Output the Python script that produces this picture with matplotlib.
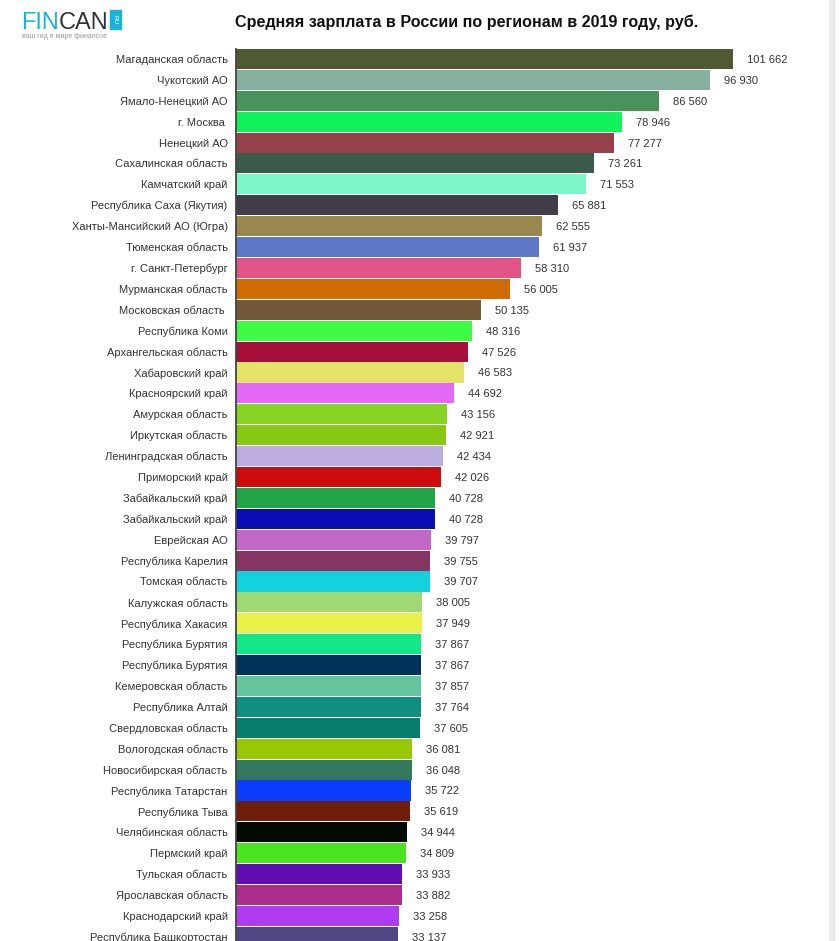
import matplotlib.pyplot as plt
from matplotlib.patches import Rectangle

plt.rcParams['font.family'] = ['Liberation Sans', 'DejaVu Sans']

regions = [
    "Магаданская область", "Чукотский АО", "Ямало-Ненецкий АО", "г. Москва ",
    "Ненецкий АО", "Сахалинская область", "Камчатский край",
    "Республика Саха (Якутия)", "Ханты-Мансийский АО (Югра)",
    "Тюменская область", "г. Санкт-Петербург", "Мурманская область",
    "Московская область ", "Республика Коми", "Архангельская область",
    "Хабаровский край", "Красноярский край", "Амурская область",
    "Иркутская область", "Ленинградская область", "Приморский край",
    "Забайкальский край", "Забайкальский край", "Еврейская АО",
    "Республика Карелия", "Томская область", "Калужская область",
    "Республика Хакасия", "Республика Бурятия", "Республика Бурятия",
    "Кемеровская область", "Республика Алтай", "Свердловская область",
    "Вологодская область", "Новосибирская область", "Республика Татарстан",
    "Республика Тыва", "Челябинская область", "Пермский край",
    "Тульская область", "Ярославская область", "Краснодарский край",
    "Республика Башкортостан",
]
salaries = [
    101662, 96930, 86560, 78946, 77277, 73261, 71553, 65881, 62555, 61937,
    58310, 56005, 50135, 48316, 47526, 46583, 44692, 43156, 42921, 42434,
    42026, 40728, 40728, 39797, 39755, 39707, 38005, 37949, 37867, 37867,
    37857, 37764, 37605, 36081, 36048, 35722, 35619, 34944, 34809, 33933,
    33882, 33258, 33137,
]
colors = [
    "#4f5a32", "#88b0a0", "#48935a", "#12f25c", "#96404a", "#3a5a4a",
    "#7ef5c8", "#403c48", "#98884e", "#5e78c8", "#e05488", "#d06c04",
    "#74583a", "#3cfc44", "#a8103c", "#e4e46a", "#e468f6", "#86d424",
    "#86c814", "#bcaee0", "#cc0c0c", "#20a648", "#0c0cb4", "#c268c6",
    "#863462", "#12d2de", "#a0d874", "#e8f04a", "#12e88a", "#00325a",
    "#66c49c", "#108e80", "#077e6c", "#98c804", "#34785e", "#0c3cfc",
    "#6e1e0a", "#020a04", "#4ae420", "#600eb4", "#aa2e8c", "#b03cf0",
    "#504884",
]

W, H = 839, 941
fig = plt.figure(figsize=(W / 100, H / 100), dpi=100)

# axes in pixel terms: left edge at x=236, top at y=48.5, bottom = figure bottom
left, right, top = 236, 829, 48.5
ax = fig.add_axes([left / W, 0, (right - left) / W, (H - top) / H])

ypos = list(range(len(regions)))
ax.barh(ypos, salaries, height=0.96, color=colors, edgecolor="none")

px_per_unit = 497 / 101662
ax.set_xlim(0, (right - left) / px_per_unit)
ax.set_ylim((H - 59) / 20.9, -0.5)

for y, v in zip(ypos, salaries):
    label = f"{v:,}".replace(",", " ")
    ax.text(v + 14 / px_per_unit, y, label, va="center_baseline", ha="left",
            fontsize=8, color="#333333")

ax.set_yticks(ypos)
ax.set_yticklabels(regions, fontsize=8, color="#333333")
ax.tick_params(axis="y", length=0, pad=6)
ax.set_xticks([])
for side in ["top", "right", "bottom"]:
    ax.spines[side].set_visible(False)
ax.spines["left"].set_color("#444444")
ax.spines["left"].set_linewidth(1.3)

fig.text(467 / W, 1 - 22 / H, "Средняя зарплата в России по регионам в 2019 году, руб.",
         ha="center", va="center", fontsize=11.6, fontweight="bold", color="#111111")

# logo: "FIN" and "CAN" side by side
fin = fig.text(21 / W, 1 - 29 / H, "FIN", ha="left", va="baseline", fontsize=17,
               color="#1ab4d6")
renderer = fig.canvas.get_renderer()
fin_end = fin.get_window_extent(renderer).x1
fig.text(fin_end / W, 1 - 29 / H, "CAN", ha="left", va="baseline", fontsize=17,
         color="#333333")
fig.patches.append(Rectangle((110 / W, 1 - 29 / H), 11 / W, 19 / H,
                             transform=fig.transFigure, color="#1ab4d6"))
fig.text(115.5 / W, 1 - 19.5 / H, "RU", ha="center", va="center", fontsize=4.5,
         color="white", rotation=270)
fig.text(22 / W, 1 - 36 / H, "ваш гид в мире финансов", ha="left", va="center",
         fontsize=5, color="#999999")

# scrollbar strip at the right edge
fig.patches.append(Rectangle((829 / W, 0), 5 / W, 1, transform=fig.transFigure,
                             color="#ebebeb"))

fig.savefig("out.png", dpi=100)
